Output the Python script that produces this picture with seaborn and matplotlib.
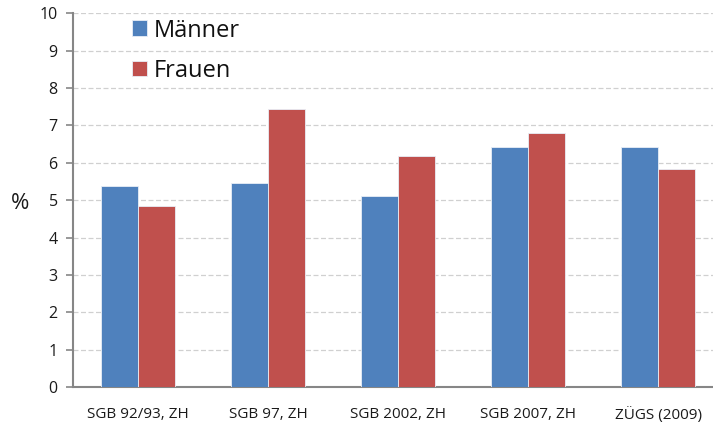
import pandas as pd
import matplotlib.pyplot as plt
import seaborn as sns

categories = ["SGB 92/93, ZH", "SGB 97, ZH", "SGB 2002, ZH", "SGB 2007, ZH", "ZÜGS (2009)"]
maenner = [5.37, 5.45, 5.11, 6.43, 6.43]
frauen = [4.85, 7.45, 6.17, 6.80, 5.83]
series = ["Männer", "Frauen"]
colors = ["#4F81BD", "#C0504D"]

df = pd.DataFrame({
    "Erhebung": categories * 2,
    "Wert": maenner + frauen,
    "Geschlecht": [series[0]] * len(categories) + [series[1]] * len(categories),
})

sns.set_style("white")
plt.rcParams["font.family"] = ["Open Sans", "DejaVu Sans"]

fig = plt.figure(figsize=(7.13, 4.32), dpi=100)
ax = fig.add_axes([0.1024, 0.1042, 0.8976, 0.8650])

sns.barplot(data=df, x="Erhebung", y="Wert", hue="Geschlecht", palette=colors,
            saturation=1, width=0.57, gap=0, edgecolor="#e8eef7", linewidth=0.6,
            ax=ax, zorder=3)

ax.set_ylim(0, 10)
ax.set_xlim(-0.5, 4.423)
ax.set_yticks(range(0, 11))
ax.yaxis.grid(True, color="#d0d0d0", linestyle=(0, (4, 2)), linewidth=0.9, zorder=0)
ax.xaxis.grid(False)

for side in ["top", "right"]:
    ax.spines[side].set_visible(False)
for side in ["left", "bottom"]:
    ax.spines[side].set_color("#868686")
    ax.spines[side].set_linewidth(1.5)

ax.tick_params(axis="y", which="both", left=True, length=5, width=1.2, color="#868686",
               labelsize=11.5, pad=6, labelcolor="#1a1a1a")
ax.tick_params(axis="x", bottom=False, labelsize=11, pad=11, labelcolor="#1a1a1a")

ax.set_xlabel("")
ax.set_ylabel("%", rotation=0, fontsize=16, labelpad=14, va="center", color="#1a1a1a")
ax.yaxis.set_label_coords(-0.083, 0.49)

handles, labels = ax.get_legend_handles_labels()
ax.legend(handles, labels, loc="upper left", bbox_to_anchor=(0.155, 1.006),
          bbox_transform=fig.transFigure, frameon=False, fontsize=17,
          handlelength=0.65, handleheight=0.65, handletextpad=0.3, labelspacing=0.68,
          labelcolor="#111111")

plt.savefig("out.png", dpi=100)
